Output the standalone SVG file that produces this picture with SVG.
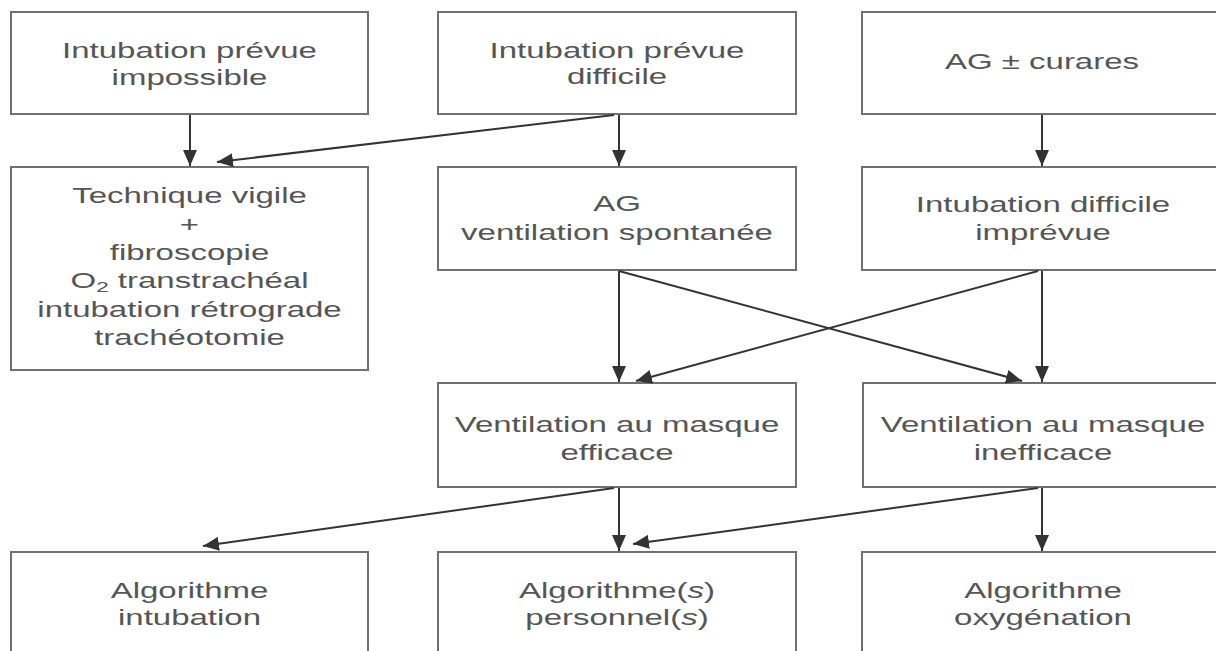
<svg xmlns="http://www.w3.org/2000/svg" width="1216" height="651" viewBox="0 0 1216 651">
<style>
.box{fill:#fff;stroke:#707070;stroke-width:2}
.t{font-family:"Liberation Sans",Arial,sans-serif;font-size:22px;fill:#555;text-anchor:middle}
.c{fill:none;stroke:#333;stroke-width:2;marker-end:url(#ah)}
</style>
<defs>
<marker id="ah" markerUnits="userSpaceOnUse" markerWidth="17" markerHeight="14" refX="16" refY="7" orient="auto">
<path d="M0,0 L16,7 L0,14 z" fill="#333"/>
</marker>
</defs>
<rect width="1216" height="651" fill="#fff"/>
<g id="n1"><rect class="box" x="11" y="12" width="357" height="102"/>
<g transform="translate(189.5 0) scale(1.5 1)"><text class="t" x="0" y="58">Intubation prévue</text><text class="t" x="0" y="85">impossible</text></g></g>
<g id="n2"><rect class="box" x="438" y="12" width="358" height="102"/>
<g transform="translate(617 0) scale(1.5 1)"><text class="t" x="0" y="58">Intubation prévue</text><text class="t" x="0" y="84">difficile</text></g></g>
<g id="n3"><rect class="box" x="862" y="12" width="360" height="102"/>
<g transform="translate(1042 0) scale(1.5 1)"><text class="t" x="0" y="69">AG ± curares</text></g></g>
<g id="n4"><rect class="box" x="11" y="167" width="357" height="203"/>
<g transform="translate(189.5 0) scale(1.5 1)"><text class="t" x="0" y="203">Technique vigile</text><text class="t" x="0" y="232">+</text><text class="t" x="0" y="260">fibroscopie</text><text class="t" x="0" y="288">O<tspan font-size="15" dy="4">2</tspan><tspan dy="-4"> transtrachéal</tspan></text><text class="t" x="0" y="317">intubation rétrograde</text><text class="t" x="0" y="345">trachéotomie</text></g></g>
<g id="n5"><rect class="box" x="438" y="167" width="358" height="103"/>
<g transform="translate(617 0) scale(1.5 1)"><text class="t" x="0" y="211">AG</text><text class="t" x="0" y="240">ventilation spontanée</text></g></g>
<g id="n6"><rect class="box" x="862" y="167" width="360" height="103"/>
<g transform="translate(1043 0) scale(1.5 1)"><text class="t" x="0" y="212">Intubation difficile</text><text class="t" x="0" y="240">imprévue</text></g></g>
<g id="n7"><rect class="box" x="438" y="383" width="358" height="104"/>
<g transform="translate(617 0) scale(1.5 1)"><text class="t" x="0" y="432">Ventilation au masque</text><text class="t" x="0" y="460">efficace</text></g></g>
<g id="n8"><rect class="box" x="863" y="383" width="360" height="104"/>
<g transform="translate(1043 0) scale(1.5 1)"><text class="t" x="0" y="432">Ventilation au masque</text><text class="t" x="0" y="460">inefficace</text></g></g>
<g id="n9"><rect class="box" x="11" y="552" width="357" height="110"/>
<g transform="translate(189.5 0) scale(1.5 1)"><text class="t" x="0" y="598">Algorithme</text><text class="t" x="0" y="625">intubation</text></g></g>
<g id="n10"><rect class="box" x="438" y="552" width="358" height="110"/>
<g transform="translate(617 0) scale(1.5 1)"><text class="t" x="0" y="598">Algorithme(<tspan font-style="italic">s</tspan>)</text><text class="t" x="0" y="625">personnel(<tspan font-style="italic">s</tspan>)</text></g></g>
<g id="n11"><rect class="box" x="862" y="552" width="360" height="110"/>
<g transform="translate(1043 0) scale(1.5 1)"><text class="t" x="0" y="598">Algorithme</text><text class="t" x="0" y="625">oxygénation</text></g></g>
<g id="connectors">
<line class="c" x1="190" y1="115" x2="190" y2="166"/>
<line class="c" x1="619" y1="115" x2="619" y2="166"/>
<line class="c" x1="614" y1="115" x2="217" y2="162"/>
<line class="c" x1="1042" y1="115" x2="1042" y2="166"/>
<line class="c" x1="619" y1="271" x2="619" y2="382"/>
<line class="c" x1="619" y1="271" x2="1022" y2="381"/>
<line class="c" x1="1042" y1="271" x2="1042" y2="382"/>
<line class="c" x1="1038" y1="271" x2="636" y2="381"/>
<line class="c" x1="619" y1="488" x2="619" y2="551"/>
<line class="c" x1="614" y1="488" x2="203" y2="546"/>
<line class="c" x1="1042" y1="488" x2="1042" y2="551"/>
<line class="c" x1="1038" y1="488" x2="633" y2="544"/>
</g>
</svg>
